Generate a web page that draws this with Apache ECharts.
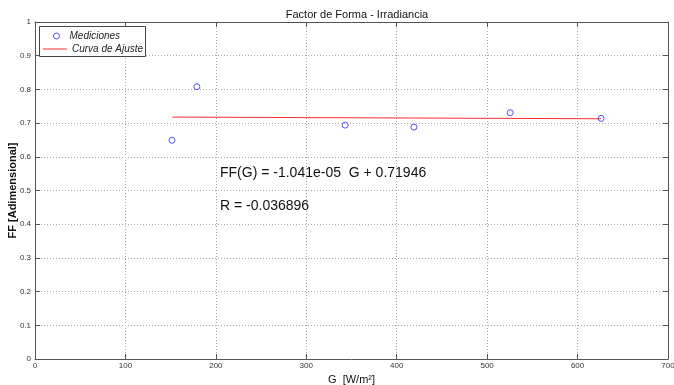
<!DOCTYPE html>
<html>
<head>
<meta charset="utf-8">
<script src="https://cdn.jsdelivr.net/npm/echarts@6/dist/echarts.min.js"></script>
<style>
  html, body { margin: 0; padding: 0; background: #fff; }
  #chart { width: 674px; height: 385px; }
</style>
</head>
<body>
<div id="chart"></div>
<script>
// mediciones (G en W/m2, FF adimensional)
const medG = [151.5, 179, 343, 419, 525.5, 626];
const medFF = [0.649, 0.808, 0.694, 0.688, 0.731, 0.714];

// curva de ajuste (extremos)
const ajusteG = [152, 626];
const ajusteFF = [0.7179, 0.7129];

const xTicks = [0, 100, 200, 300, 400, 500, 600, 700];
const yTicks = [0, 0.1, 0.2, 0.3, 0.4, 0.5, 0.6, 0.7, 0.8, 0.9, 1];

const ecuacion = "FF(G) = -1.041e-05  G + 0.71946";
const coefR = "R = -0.036896";

const font = "Liberation Sans, Arial, sans-serif";
const axisColor = "#555";
const azul = "#2a2aff";
const rojo = "#ff2a2a";

const chart = echarts.init(document.getElementById("chart"));

const baseX = {
  type: "value",
  min: xTicks[0],
  max: xTicks[xTicks.length - 1],
  interval: 100,
  axisLine: { show: true, onZero: false, lineStyle: { color: axisColor, width: 1 } },
  axisTick: { show: true, inside: true, length: 5, lineStyle: { color: axisColor } },
  splitLine: { show: false },
};
const baseY = {
  type: "value",
  min: yTicks[0],
  max: yTicks[yTicks.length - 1],
  interval: 0.1,
  axisLine: { show: true, onZero: false, lineStyle: { color: axisColor, width: 1 } },
  axisTick: { show: true, inside: true, length: 5, lineStyle: { color: axisColor } },
  splitLine: { show: false },
};

const legendText = { fontSize: 10, fontStyle: "italic", color: "#222", fontFamily: font };

const options = {
  animation: false,
  backgroundColor: "#fff",
  textStyle: { fontFamily: font },
  title: {
    text: "Factor de Forma - Irradiancia",
    left: 352,
    textAlign: "center",
    top: 4,
    textStyle: { fontSize: 11, fontWeight: "normal", color: "#111", fontFamily: font },
  },
  grid: { left: 35, right: 6, top: 22, bottom: 26, outerBoundsMode: "none", containLabel: false },
  legend: [
    {
      orient: "vertical",
      left: 53,
      top: 31,
      padding: 0,
      itemWidth: 6,
      itemHeight: 6,
      textStyle: Object.assign({}, legendText, { padding: [0, 0, 0, 5] }),
      data: [{
        name: "Mediciones",
        icon: "circle",
        itemStyle: { color: "rgba(0,0,0,0)", borderColor: azul, borderWidth: 1 },
      }],
    },
    {
      orient: "vertical",
      left: 43,
      top: 43,
      padding: 0,
      itemWidth: 24,
      itemHeight: 1,
      textStyle: Object.assign({}, legendText, { lineHeight: 12 }),
      data: [{ name: "Curva de Ajuste", icon: "rect" }],
    },
  ],
  xAxis: [
    Object.assign({}, baseX, {
      position: "bottom",
      name: "G  [W/m²]",
      nameLocation: "middle",
      nameGap: 14,
      nameTextStyle: { fontSize: 11, color: "#111", fontFamily: font },
      axisLabel: { fontSize: 8, color: "#333", margin: 3 },
      splitLine: { show: true, lineStyle: { color: "#aaa", type: [1, 2], width: 1 } },
    }),
    Object.assign({}, baseX, {
      position: "top",
      axisLabel: { show: false },
    }),
  ],
  yAxis: [
    Object.assign({}, baseY, {
      position: "left",
      name: "FF [Adimensional]",
      nameLocation: "middle",
      nameGap: 17,
      nameMoveOverlap: false,
      nameTextStyle: { fontSize: 11, fontWeight: "bold", color: "#111", fontFamily: font },
      axisLabel: { fontSize: 8, color: "#333", margin: 4 },
      splitLine: { show: true, lineStyle: { color: "#aaa", type: [1, 2], width: 1 } },
    }),
    Object.assign({}, baseY, {
      position: "right",
      axisLabel: { show: false },
    }),
  ],
  series: [
    {
      name: "Mediciones",
      type: "scatter",
      symbol: "circle",
      symbolSize: 6,
      itemStyle: { color: "rgba(0,0,0,0)", borderColor: azul, borderWidth: 1 },
      data: medG.map((g, i) => [g, medFF[i]]),
      z: 5,
    },
    {
      name: "Curva de Ajuste",
      type: "line",
      symbol: "none",
      lineStyle: { color: rojo, width: 1 },
      itemStyle: { color: rojo },
      data: ajusteG.map((g, i) => [g, ajusteFF[i]]),
      z: 4,
    },
  ],
  graphic: [
    {
      type: "rect",
      left: 39,
      top: 26,
      z: 1,
      shape: { width: 106, height: 30 },
      style: { fill: "#fff", stroke: "#444", lineWidth: 1 },
    },
    {
      type: "text",
      left: 220,
      top: 166,
      style: { text: ecuacion, fontSize: 14, fill: "#111", fontFamily: font },
    },
    {
      type: "text",
      left: 220,
      top: 199,
      style: { text: coefR, fontSize: 14, fill: "#111", fontFamily: font },
    },
  ],
};

chart.setOption(options);
</script>
</body>
</html>
